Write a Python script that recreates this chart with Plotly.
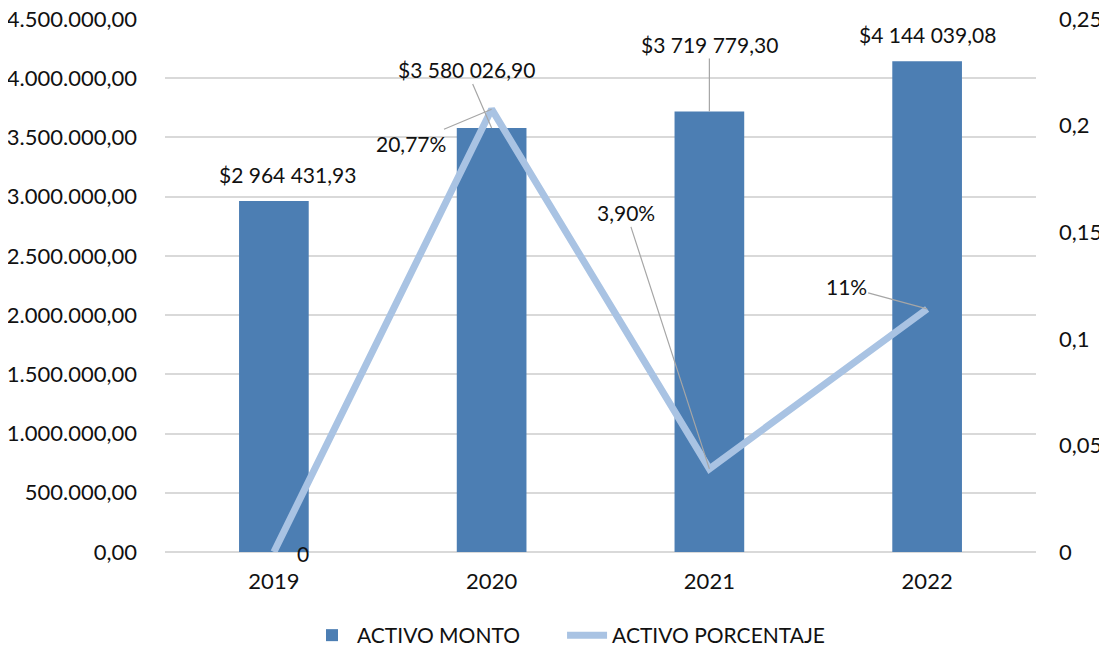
import plotly.graph_objects as go

years = ["2019", "2020", "2021", "2022"]
activo_monto = [2964431.93, 3580026.90, 3719779.30, 4144039.08]
activo_pct = [0.0, 0.2077, 0.039, 0.114]
monto_labels = ["$2 964 431,93", "$3 580 026,90", "$3 719 779,30", "$4 144 039,08"]
pct_labels = ["0", "20,77%", "3,90%", "11%"]

FONT = "Lato"
FS = 21
TFS = 22
TXT = "#111111"
BAR = "#4C7EB3"
LINE = "#A9C3E3"
LEAD = "#A6A6A6"

fig = go.Figure()
fig.add_trace(go.Bar(
    x=years, y=activo_monto, name="ACTIVO MONTO",
    marker=dict(color=BAR, line=dict(width=0)),
    width=0.32, legend="legend",
))
fig.add_trace(go.Scatter(
    x=years, y=activo_pct, name="ACTIVO PORCENTAJE", yaxis="y2",
    mode="lines", line=dict(color=LINE, width=7), legend="legend2",
))

# bar data labels (category axis: annotation x is the category index)
bar_label_cfg = [
    dict(showarrow=False, xshift=14, yshift=12),
    dict(showarrow=True, ax=-25, ay=-58),
    dict(showarrow=True, ax=0, ay=-67),
    dict(showarrow=False, xshift=0, yshift=12),
]
for i, (v, lab, cfg) in enumerate(zip(activo_monto, monto_labels, bar_label_cfg)):
    a = dict(x=i, y=v, xref="x", yref="y", text=lab,
             font=dict(family=FONT, size=FS, color=TXT))
    if cfg["showarrow"]:
        a.update(showarrow=True, ax=cfg["ax"], ay=cfg["ay"], arrowhead=0,
                 arrowwidth=1.2, arrowcolor=LEAD, standoff=0, startstandoff=0)
    else:
        a.update(showarrow=False, yanchor="bottom", xshift=cfg["xshift"], yshift=cfg["yshift"])
    fig.add_annotation(**a)

# line data labels
pct_label_cfg = [
    dict(showarrow=False, xshift=29, yshift=-1),
    dict(showarrow=True, ax=-81, ay=34),
    dict(showarrow=True, ax=-83, ay=-256),
    dict(showarrow=True, ax=-81, ay=-22),
]
for i, (v, lab, cfg) in enumerate(zip(activo_pct, pct_labels, pct_label_cfg)):
    a = dict(x=i, y=v, xref="x", yref="y2", text=lab,
             font=dict(family=FONT, size=FS, color=TXT))
    if cfg["showarrow"]:
        a.update(showarrow=True, ax=cfg["ax"], ay=cfg["ay"], arrowhead=0,
                 arrowwidth=1.2, arrowcolor=LEAD, standoff=0, startstandoff=0)
    else:
        a.update(showarrow=False, xshift=cfg["xshift"], yshift=cfg["yshift"])
    fig.add_annotation(**a)

legend_common = dict(orientation="h", xanchor="left", xref="container",
                     y=0.0, yanchor="bottom", yref="container",
                     font=dict(family=FONT, size=FS, color=TXT),
                     itemwidth=40, bgcolor="rgba(0,0,0,0)")

fig.update_layout(
    width=1107, height=648,
    margin=dict(l=157, r=79, t=11, b=104, autoexpand=False),
    paper_bgcolor="white", plot_bgcolor="white",
    separators=",.",
    font=dict(family=FONT, size=FS, color=TXT),
    showlegend=True,
    legend=dict(x=0.2701, **legend_common),
    legend2=dict(x=0.5005, **legend_common),
    xaxis=dict(type="category", range=[-0.5, 3.5], showgrid=False, showline=False,
               ticks="", ticklabelstandoff=14, automargin=False,
               tickfont=dict(family=FONT, size=TFS, color=TXT)),
    yaxis=dict(range=[0, 4500000], dtick=500000, tickformat=",.2f",
               showgrid=True, gridcolor="#D9D9D9", gridwidth=1.5,
               zeroline=True, zerolinecolor="#D9D9D9", zerolinewidth=1.5,
               showline=False, ticks="", ticklabelstandoff=27, automargin=False,
               ticklabeloverflow="allow",
               tickfont=dict(family=FONT, size=TFS, color=TXT)),
    yaxis2=dict(range=[0, 0.25], dtick=0.05, tickformat=".2~f",
                overlaying="y", side="right", showgrid=False, zeroline=False,
                showline=False, ticks="", ticklabelstandoff=22, automargin=False,
                ticklabeloverflow="allow",
                tickfont=dict(family=FONT, size=TFS, color=TXT)),
)

fig.write_html("out.html")
